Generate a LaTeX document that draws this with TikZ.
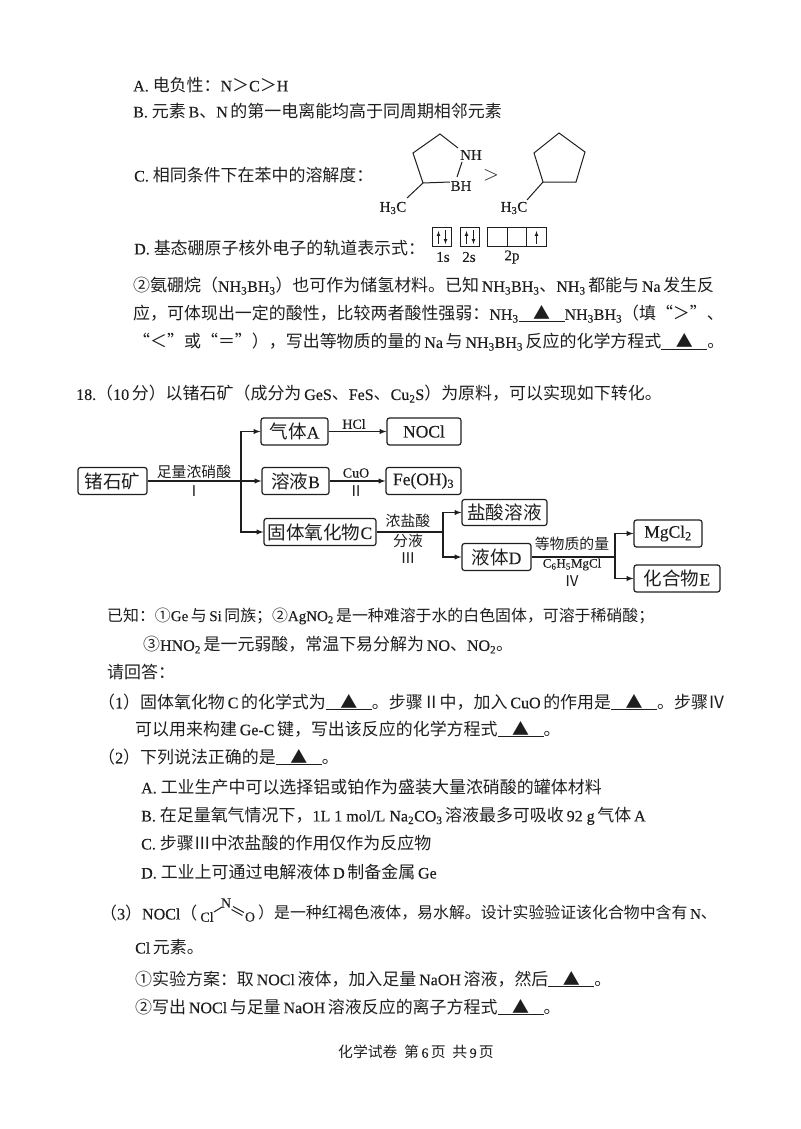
\documentclass[tikz,border=0pt]{standalone}
\usepackage{fontspec}
\usetikzlibrary{arrows}
\setmainfont{Liberation Serif}[FakeBold=0.25]
\newfontfamily\cjk{Noto Sans CJK SC}[Scale=1.06]
% font switch for CJK characters
\XeTeXinterchartokenstate=1
\newXeTeXintercharclass\cjkclass
\newcount\cjkcode
\newcommand{\cjkrange}[2]{\cjkcode=#1 \loop \XeTeXcharclass\cjkcode=\cjkclass \ifnum\cjkcode<#2 \advance\cjkcode 1 \repeat}
\cjkrange{"201C}{"201D}
\cjkrange{"2160}{"216F}
\cjkrange{"2460}{"2473}
\cjkrange{"25B2}{"25B2}
\cjkrange{"3000}{"9FFF}
\cjkrange{"FF00}{"FFEF}
\XeTeXinterchartoks 0 \cjkclass = {\cjk}
\XeTeXinterchartoks 4095 \cjkclass = {\cjk}
\XeTeXinterchartoks \cjkclass 0 = {\rmfamily}
\XeTeXinterchartoks 4095 0 = {\rmfamily}
% full-width punctuation
\newcommand{\zc}{^^^^ff0c}
\newcommand{\zk}{^^^^ff1a}
\newcommand{\zf}{^^^^ff1b}
\newcommand{\zl}{^^^^ff08}
\newcommand{\zr}{^^^^ff09}
\newcommand{\zeq}{^^^^ff1d}
\newcommand{\sbs}[1]{\textsubscript{#1}}
\newcommand{\ans}{\underline{\hbox to 46pt{\hfil ▲\hfil}}}
\definecolor{ink}{HTML}{1E1E1E}
\tikzset{
  txt/.style={anchor=west, inner sep=0pt, text=ink, font=\fontsize{16}{18}\selectfont},
  tight/.style={font=\fontsize{15}{18}\selectfont},
  box/.style={draw=ink, line width=1.2pt, rounded corners=2.5pt, inner sep=0pt, text=ink, font=\fontsize{17.5}{20}\selectfont},
  conn/.style={-latex, draw=ink, line width=1.3pt},
  seg/.style={draw=ink, line width=1.3pt},
  lab/.style={inner sep=0pt, text=ink, font=\fontsize{14}{16}\selectfont},
  chem/.style={inner sep=0pt, text=ink, font=\fontsize{15}{16}\selectfont},
  bond/.style={draw=ink, line width=1pt},
  orb/.style={draw=ink, line width=1pt, inner sep=0pt, minimum size=19.5pt},
  spin/.style={-latex, draw=ink, line width=0.7pt},
}
\begin{document}
\begin{tikzpicture}[x=1pt,y=-1pt]
\useasboundingbox (0,0) rectangle (800,1129);
% top lines
\node [txt] (lineA) at (133,85) {A.\ 电负性\zk N＞C＞H};
\node [txt] (lineB) at (133,111) {B.\ 元素\,B、N\,的第一电离能均高于同周期相邻元素};
\node [txt] (lineC) at (134,175) {C.\ 相同条件下在苯中的溶解度\zk};
\node [txt] (lineD) at (134,248) {D.\ 基态硼原子核外电子的轨道表示式\zk};
% left ring
\draw [bond] (458,148) -- (440,134) -- (413,153) -- (423,183) -- (450,182);
\draw [bond] (462,162) -- (457,177);
\draw [bond] (423,183) -- (407,198);
\node [chem] (nh) at (471,155) {NH};
\node [chem] (bh) at (461,186) {BH};
\node [chem] (chA) at (393,208) {H\sbs3C};
\node [inner sep=0pt, text=ink, font=\fontsize{20}{20}\selectfont] (gt) at (491,175) {$>$};
% right ring
\draw [bond] (559,133) -- (585,152) -- (576,182) -- (543,182) -- (534,153) -- cycle;
\draw [bond] (543,182) -- (527,200);
\node [chem] (chB) at (514,208) {H\sbs3C};
% orbitals
\node [orb] (o1) at (442,237) {};
\node [orb] (o2) at (470,237) {};
\node [orb] (o3) at (497.5,237) {};
\node [orb] (o4) at (517,237) {};
\node [orb] (o5) at (536.5,237) {};
\draw [spin] (438.5,244) -- (438.5,231);
\draw [spin] (445.5,230) -- (445.5,244);
\draw [spin] (466.5,244) -- (466.5,231);
\draw [spin] (473.5,230) -- (473.5,244);
\draw [spin] (536.5,244) -- (536.5,231);
\node [chem] (s1) at (443,257) {1s};
\node [chem] (s2) at (469,257) {2s};
\node [chem] (p2) at (512,257) {2p};
% middle lines
\node [txt] (lineE) at (133,286) {②氨硼烷\zl NH\sbs3BH\sbs3\zr 也可作为储氢材料。已知\,NH\sbs3BH\sbs3、NH\sbs3\,都能与\,Na\,发生反};
\node [txt] (lineF) at (133,314) {应\zc 可体现出一定的酸性\zc 比较两者酸性强弱\zk NH\sbs3\ans NH\sbs3BH\sbs3\zl 填“＞”、};
\node [txt] (lineG) at (133,342) {“＜”或“\zeq ”\zr\zc 写出等物质的量的\,Na\,与\,NH\sbs3BH\sbs3\,反应的化学方程式\ans。};
\node [txt] (lineH) at (76,394) {18.\zl 10\,分\zr 以锗石矿\zl 成分为\,GeS、FeS、Cu\sbs2S\zr 为原料\zc 可以实现如下转化。};
% flow boxes
\node [box, minimum width=69pt, minimum height=27pt] (ore) at (112.5,481) {锗石矿};
\node [box, minimum width=67pt, minimum height=27pt] (gasA) at (294.5,431.5) {气体A};
\node [box, minimum width=74pt, minimum height=27pt] (nocl) at (424,431.5) {NOCl};
\node [box, minimum width=67pt, minimum height=27pt] (solB) at (295.5,481) {溶液B};
\node [box, minimum width=75pt, minimum height=27pt] (feoh) at (423.5,481) {Fe(OH)\sbs3};
\node [box, minimum width=112pt, minimum height=27pt] (oxC) at (320,532) {固体氧化物C};
\node [box, minimum width=85pt, minimum height=26pt] (hcl) at (504.5,512.5) {盐酸溶液};
\node [box, minimum width=69pt, minimum height=27pt] (liqD) at (496.5,557) {液体D};
\node [box, minimum width=68pt, minimum height=27pt] (mgcl) at (668,533.5) {MgCl\sbs2};
\node [box, minimum width=86pt, minimum height=27pt] (cpdE) at (677,578.5) {化合物E};
% junctions
\coordinate (jOre) at (241,481);
\coordinate (jC) at (443,532);
\coordinate (jD) at (615,557);
\draw [conn] (ore) -- (solB);
\draw [conn] (jOre) |- (gasA);
\draw [conn] (jOre) |- (oxC);
\draw [conn] (gasA) -- (nocl);
\draw [conn] (solB) -- (feoh);
\draw [seg] (oxC) -- (jC);
\draw [conn] (jC) |- (hcl);
\draw [conn] (jC) |- (liqD);
\draw [seg] (liqD) -- (jD);
\draw [conn] (jD) |- (mgcl);
\draw [conn] (jD) |- (cpdE);
% labels on arrows
\node [lab] (acid) at (194,472) {足量浓硝酸};
\node [lab] (st1) at (194,491) {Ⅰ};
\node [lab] (lhcl) at (354,424) {HCl};
\node [lab] (lcuo) at (356,473) {CuO};
\node [lab] (st2) at (356,491) {Ⅱ};
\node [lab] (lcon) at (408,521) {浓盐酸};
\node [lab] (lsep) at (408,541) {分液};
\node [lab] (st3) at (408,558) {Ⅲ};
\node [lab] (leq) at (572,544) {等物质的量};
\node [lab, font=\fontsize{13}{16}\selectfont] (lgr) at (572,564.5) {C\sbs6H\sbs5MgCl};
\node [lab] (st4) at (572,581) {Ⅳ};
% lower lines
\node [txt, tight] (lineI) at (107,616) {已知\zk ①Ge\,与\,Si\,同族\zf ②AgNO\sbs2\,是一种难溶于水的白色固体\zc 可溶于稀硝酸\zf};
\node [txt] (lineJ) at (143,645) {③HNO\sbs2\,是一元弱酸\zc 常温下易分解为\,NO、NO\sbs2。};
\node [txt] (lineK) at (107,672) {请回答\zk};
\node [txt] (lineL) at (98,702) {\zl 1\zr 固体氧化物\,C\,的化学式为\ans。步骤Ⅱ中\zc 加入\,CuO\,的作用是\ans。步骤Ⅳ};
\node [txt] (lineM) at (135,729) {可以用来构建\,Ge-C\,键\zc 写出该反应的化学方程式\ans。};
\node [txt] (lineN) at (98,757) {\zl 2\zr 下列说法正确的是\ans。};
\node [txt] (lineO) at (141,787) {A.\ 工业生产中可以选择铝或铂作为盛装大量浓硝酸的罐体材料};
\node [txt] (lineP) at (141,816) {B.\ 在足量氧气情况下\zc 1L 1 mol/L Na\sbs2CO\sbs3\,溶液最多可吸收\,92 g\,气体\,A};
\node [txt] (lineQ) at (141,843) {C.\ 步骤Ⅲ中浓盐酸的作用仅作为反应物};
\node [txt] (lineR) at (141,872) {D.\ 工业上可通过电解液体\,D\,制备金属\,Ge};
% NOCl formula
\node [txt] (lineS) at (100,913) {\zl 3\zr NOCl\zl};
\node [lab] (cl) at (207,917) {Cl};
\node [lab] (nn) at (226,903) {N};
\node [lab] (oo) at (250,917) {O};
\draw [bond] (214,912) -- (222,907);
\draw [bond] (233,906.5) -- (244,912.5);
\draw [bond] (231.5,909.5) -- (242.5,915.5);
\node [txt, tight] (lineT) at (258,913) {\zr 是一种红褐色液体\zc 易水解。设计实验验证该化合物中含有\,N、};
\node [txt] (lineU) at (135,947) {Cl\,元素。};
\node [txt] (lineV) at (135,979) {①实验方案\zk 取\,NOCl\,液体\zc 加入足量\,NaOH\,溶液\zc 然后\ans。};
\node [txt] (lineW) at (135,1007) {②写出\,NOCl\,与足量\,NaOH\,溶液反应的离子方程式\ans。};
\node [txt, font=\fontsize{14}{16}\selectfont] (foot) at (338,1052) {化学试卷\ \ 第\,6\,页\ \ 共\,9\,页};
\end{tikzpicture}
\end{document}
